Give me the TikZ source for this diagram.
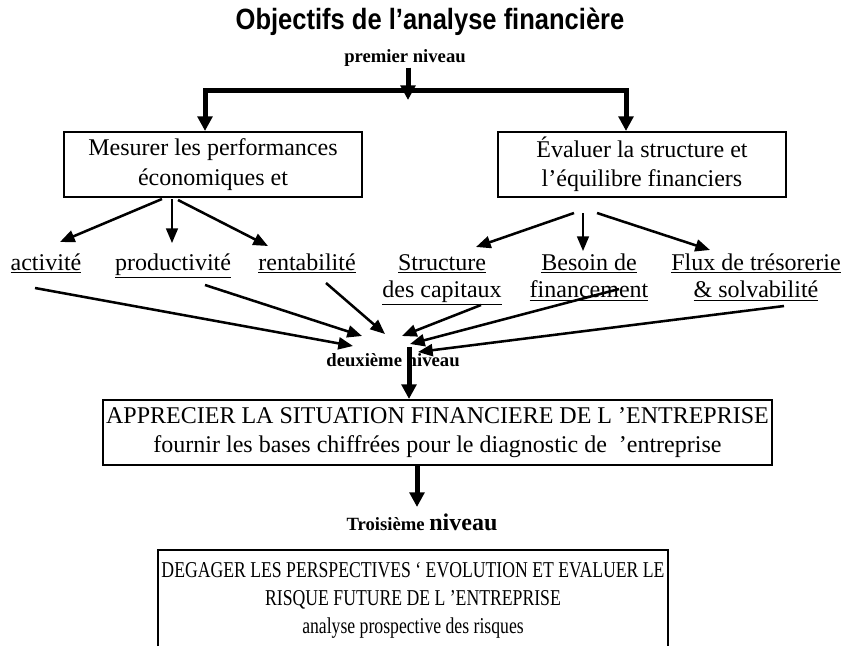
\documentclass[tikz,border=0pt]{standalone}
\usepackage{fontspec}
\setmainfont{Liberation Serif}
\newfontfamily\titlefont{Liberation Sans}[FakeStretch=0.87]
\newfontfamily\narrowserif{Liberation Serif}[FakeStretch=0.78]
\usetikzlibrary{arrows.meta}

\tikzset{
  boxtext/.style={draw, line width=1.5pt, align=center, inner sep=0pt, font=\fontsize{18}{22}\selectfont},
  frame/.style={line width=1.5pt},
  leaf/.style={anchor=north, align=center, inner sep=0.75pt, font=\fontsize{18}{20.5}\selectfont},
  level/.style={inner sep=0.75pt, font=\fontsize{14}{16}\selectfont\bfseries},
  thinarrow/.style={line width=1.9pt, -{Triangle[length=11pt,width=9pt]}},
  fatarrow/.style={line width=3.75pt, -{Triangle[length=11pt,width=11pt]}},
}
\newcommand{\crit}[1]{\strut\underline{#1}}

\begin{document}
\begin{tikzpicture}[x=0.75pt,y=0.75pt,yscale=-1,xscale=1]
\useasboundingbox (0,0) rectangle (852,646);

% titre et premier niveau
\node (title) at (430,22) {\titlefont\bfseries\fontsize{22}{24}\selectfont Objectifs de l’analyse financière};
\node[level] (lvl1) at (405,58) {premier niveau};

\coordinate (hub) at (408,100);
\coordinate (barL) at (205,90);
\coordinate (barR) at (626,90);

\node[boxtext, minimum width=223.5pt, minimum height=48.75pt] (perf) at (213,164.5) {Mesurer les performances\\économiques et};
\node[boxtext, minimum width=216pt, minimum height=48.75pt] (equi) at (642,164.5) {Évaluer la structure et\\l’équilibre financiers};

\draw[line width=3.75pt] (barL) -- (barR);
\draw[fatarrow] (lvl1.south -| hub) -- (hub);
\draw[fatarrow] ([yshift=-1.5pt]barL) -- (perf.north -| barL);
\draw[fatarrow] ([yshift=-1.5pt]barR) -- (equi.north -| barR);

% critères
\node[leaf] (act) at (46,250) {\crit{activité}};
\node[leaf] (prod) at (173,250) {\crit{productivité}};
\node[leaf] (rent) at (307,250) {\crit{rentabilité}};
\node[leaf] (struc) at (442,250) {\crit{Structure}\\\crit{des capitaux}};
\node[leaf] (besoin) at (589,250) {\crit{Besoin de}\\\crit{financement}};
\node[leaf] (flux) at (756,250) {\crit{Flux de trésorerie}\\\crit{\& solvabilité}};

\coordinate (pa) at (162,199);
\coordinate (pb) at (172,199);
\coordinate (pc) at (178,200);
\coordinate (ea) at (574,213);
\coordinate (eb) at (583,213);
\coordinate (ec) at (597,213);
\coordinate (actT) at (60,242);
\coordinate (prodT) at (172,243);
\coordinate (rentT) at (268,246);
\coordinate (strucT) at (476,247);
\coordinate (besoinT) at (583,251);
\coordinate (fluxT) at (710,250);

\draw[thinarrow] (pa) -- (actT);
\draw[thinarrow, line width=1.2pt] (pb) -- (prodT);
\draw[thinarrow] (pc) -- (rentT);
\draw[thinarrow] (ea) -- (strucT);
\draw[thinarrow, line width=1.2pt] (eb) -- (besoinT);
\draw[thinarrow] (ec) -- (fluxT);

% convergence vers le deuxième niveau
\coordinate (actB) at (35,288);
\coordinate (prodB) at (205,285);
\coordinate (rentB) at (326,283);
\coordinate (strucB) at (481,305);
\coordinate (besoinB) at (619,289);
\coordinate (fluxB) at (784,306);
\coordinate (c1) at (353,346);
\coordinate (c2) at (362,336);
\coordinate (c3) at (385,334);
\coordinate (c4) at (402,336);
\coordinate (c5) at (410,344);
\coordinate (c6) at (418,352);

\draw[thinarrow] (actB) -- (c1);
\draw[thinarrow] (prodB) -- (c2);
\draw[thinarrow] (rentB) -- (c3);
\draw[thinarrow] (strucB) -- (c4);
\draw[thinarrow] (besoinB) -- (c5);
\draw[thinarrow] (fluxB) -- (c6);

\node[level] (lvl2) at (393,360) {deuxième niveau};

\node[boxtext, minimum width=501.75pt, minimum height=48.75pt] (appr) at (437.5,432.5) {APPRECIER LA SITUATION FINANCIERE DE L ’ENTREPRISE\\fournir les bases chiffrées pour le diagnostic de \ ’entreprise};

\coordinate (top2) at (409,347);
\draw[fatarrow] (top2) -- (appr.north -| top2);

% troisième niveau
\node[inner sep=0.75pt] (lvl3) at (422,522) {\bfseries\fontsize{14}{16}\selectfont Troisième \fontsize{18}{20}\selectfont niveau};
\coordinate (top3) at (417,507);
\draw[fatarrow] (appr.south -| top3) -- (top3);

\node[align=center, inner sep=0.75pt, font=\narrowserif\fontsize{17}{21}\selectfont] (pers) at (413,600) {DEGAGER LES PERSPECTIVES ‘ EVOLUTION ET EVALUER LE\\RISQUE FUTURE DE L ’ENTREPRISE\\analyse prospective des risques};
\draw[frame] (158,646) |- (668,550) -- (668,646);

\end{tikzpicture}
\end{document}
